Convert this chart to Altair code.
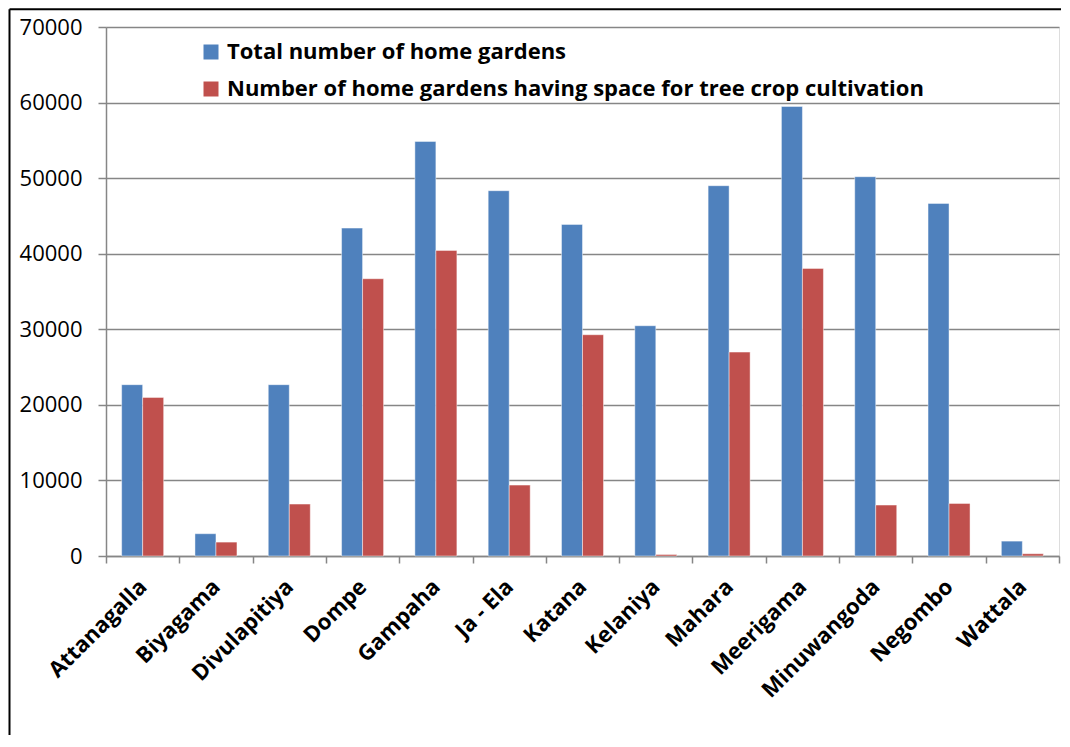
import altair as alt
import pandas as pd

categories = ["Attanagalla", "Biyagama", "Divulapitiya", "Dompe", "Gampaha", "Ja - Ela",
              "Katana", "Kelaniya", "Mahara", "Meerigama", "Minuwangoda", "Negombo", "Wattala"]
total_gardens = [22670, 2950, 22670, 43390, 54860, 48340, 43880, 30470, 49000, 59490, 50190, 46660, 1970]
space_gardens = [20990, 1840, 6870, 36690, 40440, 9380, 29280, 200, 26980, 38060, 6740, 6960, 300]
series_names = ["Total number of home gardens",
                "Number of home gardens having space for tree crop cultivation"]
series_colors = ["#4F81BD", "#C0504D"]
y_ticks = [0, 10000, 20000, 30000, 40000, 50000, 60000, 70000]

rows = []
for c, t, s in zip(categories, total_gardens, space_gardens):
    rows.append({"area": c, "series": series_names[0], "value": t})
    rows.append({"area": c, "series": series_names[1], "value": s})
df = pd.DataFrame(rows)

FONT = "Open Sans"
W, H = 953, 529

bars = alt.Chart(df).mark_bar(stroke="white", strokeWidth=1, strokeOpacity=0.45).encode(
    x=alt.X("area:N", sort=categories,
            scale=alt.Scale(paddingInner=0, paddingOuter=0),
            axis=alt.Axis(title=None, labelAngle=-45, labelFontSize=22, labelFontWeight="bold",
                          labelFont=FONT, labelColor="black", tickBand="extent",
                          domainColor="#868686", domainWidth=1.5, tickColor="#868686",
                          tickWidth=1.5, tickSize=7, labelPadding=20, labelAlign="right",
                          labelBaseline="middle")),
    xOffset=alt.XOffset("series:N", sort=series_names,
                        scale=alt.Scale(paddingInner=0, paddingOuter=0.745)),
    y=alt.Y("value:Q", scale=alt.Scale(domain=[0, 70000], nice=False),
            axis=alt.Axis(title=None, values=y_ticks, format="d", labelFontSize=22,
                          labelFont=FONT, labelColor="black", grid=True,
                          gridColor="#868686", gridWidth=1.5, domainColor="#868686",
                          domainWidth=1.5, tickColor="#868686", tickWidth=1.5, tickSize=8,
                          labelPadding=16)),
    color=alt.Color("series:N", sort=series_names,
                    scale=alt.Scale(domain=series_names, range=series_colors),
                    legend=alt.Legend(title=None, orient="none", legendX=94, legendY=14,
                                      symbolType="square", symbolSize=225, symbolStrokeWidth=0,
                                      labelFontSize=22, labelFontWeight="bold", labelFont=FONT,
                                      labelColor="black", labelLimit=900, labelOffset=5,
                                      rowPadding=15)),
)

left_border = alt.Chart(pd.DataFrame({"k": [0]})).mark_rule(color="black", strokeWidth=2).encode(
    x=alt.value(-96.5), y=alt.value(-17.7), y2=alt.value(708))
top_border = alt.Chart(pd.DataFrame({"k": [0]})).mark_rule(color="black", strokeWidth=2).encode(
    x=alt.value(-96.5), x2=alt.value(955), y=alt.value(-17.7))

chart = alt.layer(bars, left_border, top_border).properties(
    width=W, height=H, padding=0
).configure_view(stroke=None).configure(background="white")

chart.save("out.html", embed_options={"renderer": "svg", "actions": False})
